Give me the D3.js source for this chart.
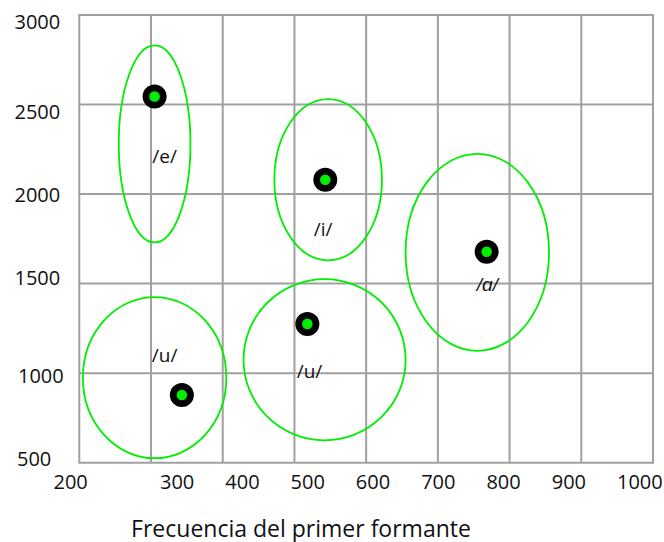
<!DOCTYPE html>
<html>
<head>
<meta charset="utf-8">
<script src="https://cdn.jsdelivr.net/npm/d3@7"></script>
<style>
  html, body { margin: 0; padding: 0; background: #fff; }
  svg { display: block; }
  text { font-family: "Open Sans", "Noto Sans", sans-serif; fill: #111; }
</style>
</head>
<body>
<svg id="chart" width="664" height="542"></svg>
<script>
// Vowel formant data: first formant (F1, Hz) vs second formant (F2, Hz)
const vowels = ["/e/", "/i/", "/ɑ/", "/u/", "/u/"];
const f1Values = [305, 543, 768, 518, 343];
const f2Values = [2545, 2080, 1678, 1275, 878];

// Dispersion ellipses: centre and semi-axes, in Hz
const ellipseCx = [305, 547, 755, 542, 305];
const ellipseCy = [2280, 2080, 1675, 1075, 975];
const ellipseRx = [50, 75, 100, 113, 100];
const ellipseRy = [550, 450, 550, 450, 450];

// Where each vowel name sits, in Hz
const labelF1 = [319, 540, 769, 319, 521];
const labelF2 = [2209, 1805, 1498, 1101, 1012];

// Axis ticks
const xTicks = [200, 300, 400, 500, 600, 700, 800, 900, 1000];
const yTicks = [500, 1000, 1500, 2000, 2500, 3000];
const xTitle = "Frecuencia del primer formante";

const svg = d3.select("#chart");

const x = d3.scaleLinear().domain([200, 1000]).range([79.3, 653]);
const y = d3.scaleLinear().domain([500, 3000]).range([462.7, 15]);

// Tick labels run on their own spacing below the plot
const xLabelPos = d3.scaleLinear().domain([200, 300, 1000]).range([53.5, 160, 617]);
const yLabelNudge = { 500: -3.4, 1000: 2.7, 1500: -6, 2000: 0.7, 2500: 7.7, 3000: 6.7 };

const gridColor = "#a0a0a0";

// Grid
const grid = svg.append("g");
grid.selectAll(".vx").data(xTicks).join("line")
  .attr("x1", d => x(d)).attr("x2", d => x(d))
  .attr("y1", y(3000)).attr("y2", y(500))
  .attr("stroke", gridColor).attr("stroke-width", 2);
grid.selectAll(".hy").data(yTicks).join("line")
  .attr("y1", d => y(d)).attr("y2", d => y(d))
  .attr("x1", x(200) - 1).attr("x2", x(1000) + 1)
  .attr("stroke", gridColor).attr("stroke-width", 2);

// X tick labels
svg.append("g").selectAll("text").data(xTicks).join("text")
  .attr("x", d => xLabelPos(d))
  .attr("y", 488.5)
  .attr("text-anchor", "start")
  .style("font-size", "20px")
  .text(d => d);

// Y tick labels
svg.append("g").selectAll("text").data(yTicks).join("text")
  .attr("x", d => d === 1000 ? 18 : (d === 500 ? 17 : 14.5))
  .attr("y", d => y(d) + yLabelNudge[d])
  .attr("dy", "0.35em")
  .attr("text-anchor", "start")
  .style("font-size", "20px")
  .text(d => d);

// Axis title
svg.append("text")
  .attr("x", 301).attr("y", 536.5)
  .attr("text-anchor", "middle")
  .style("font-size", "23px")
  .text(xTitle);

const idx = d3.range(vowels.length);

// Ellipses
svg.append("g").selectAll("ellipse").data(idx).join("ellipse")
  .attr("cx", i => x(ellipseCx[i]))
  .attr("cy", i => y(ellipseCy[i]))
  .attr("rx", i => x(ellipseCx[i] + ellipseRx[i]) - x(ellipseCx[i]))
  .attr("ry", i => y(ellipseCy[i]) - y(ellipseCy[i] + ellipseRy[i]))
  .attr("fill", "none")
  .attr("stroke", "#00ee00")
  .attr("stroke-width", 1.8);

// Vowel names
svg.append("g").selectAll("text").data(idx).join("text")
  .attr("x", i => x(labelF1[i]))
  .attr("y", i => y(labelF2[i]))
  .attr("dy", "0.35em")
  .attr("text-anchor", "middle")
  .style("font-size", "19px")
  .style("font-family", i => vowels[i] === "/ɑ/" ? "'Liberation Sans', Arial, sans-serif" : null)
  .style("font-style", i => vowels[i] === "/ɑ/" ? "italic" : null)
  .text(i => vowels[i]);

// Points
const pts = svg.append("g").selectAll("g").data(idx).join("g")
  .attr("transform", i => `translate(${x(f1Values[i])},${y(f2Values[i])})`);
pts.append("circle").attr("r", 12).attr("fill", "#000");
pts.append("circle").attr("r", 5.3).attr("fill", "#00ee00");
</script>
</body>
</html>
